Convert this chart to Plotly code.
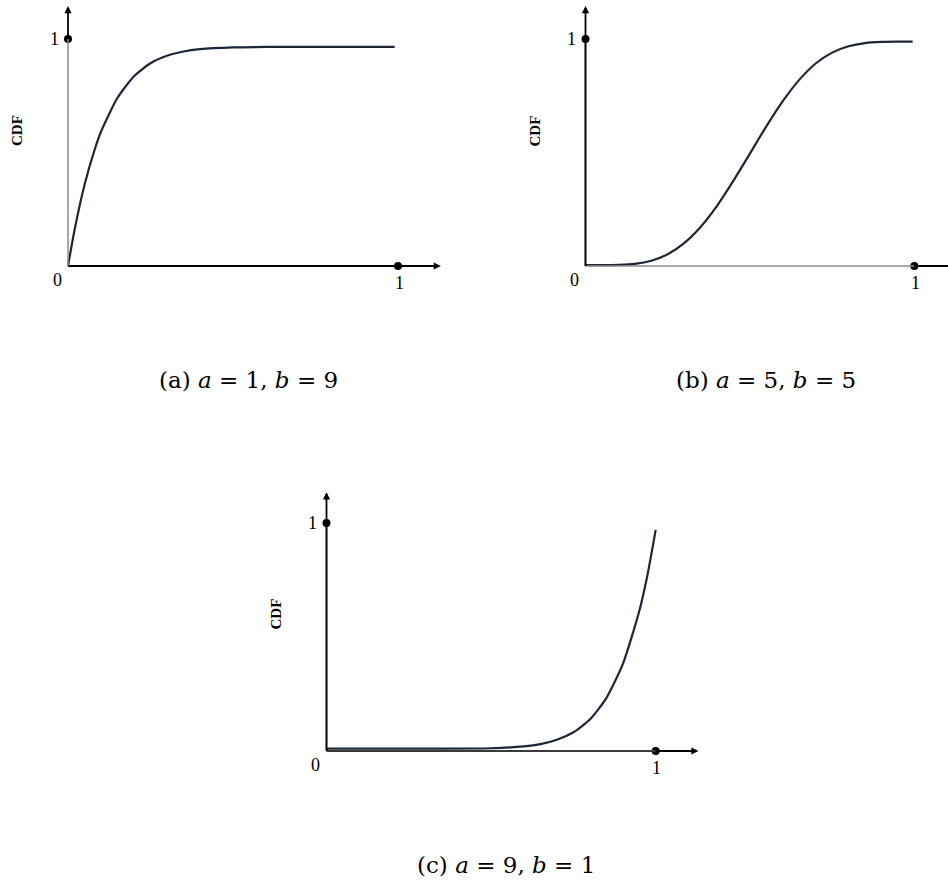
import plotly.graph_objects as go

# Sampled CDF curves for three Beta(a, b) shapes
x_a = [0.0, 0.02, 0.05, 0.08, 0.10, 0.15, 0.20, 0.25, 0.30, 0.35, 0.40, 0.50, 0.60, 0.70, 0.80, 0.90, 0.99]
y_a = [0.0, 0.160, 0.357, 0.509, 0.592, 0.741, 0.836, 0.893, 0.926, 0.945, 0.955, 0.963, 0.965, 0.965, 0.965, 0.965, 0.965]

x_b = [0.0, 0.05, 0.10, 0.15, 0.20, 0.25, 0.30, 0.35, 0.40, 0.45, 0.50, 0.55, 0.60, 0.65, 0.70, 0.75, 0.80, 0.85, 0.90, 0.95, 0.995]
y_b = [0.004, 0.004, 0.005, 0.009, 0.023, 0.052, 0.101, 0.172, 0.265, 0.376, 0.495, 0.615, 0.726, 0.820, 0.892, 0.940, 0.968, 0.982, 0.987, 0.988, 0.988]

x_c = [0.0, 0.3, 0.5, 0.6, 0.65, 0.70, 0.75, 0.80, 0.85, 0.90, 0.95, 0.975, 1.0]
y_c = [0.010, 0.010, 0.012, 0.020, 0.030, 0.049, 0.082, 0.138, 0.232, 0.381, 0.613, 0.772, 0.970]

captions = [
    "(a) <i>a</i>&nbsp;=&nbsp;1, <i>b</i>&nbsp;=&nbsp;9",
    "(b) <i>a</i>&nbsp;=&nbsp;5, <i>b</i>&nbsp;=&nbsp;5",
    "(c) <i>a</i>&nbsp;=&nbsp;9, <i>b</i>&nbsp;=&nbsp;1",
]
tick_lo, tick_hi = "0", "1"
y_title = "CDF"

W, H = 948, 882
CURVE = "#1c2636"
SERIF = "DejaVu Serif, Liberation Serif, serif"
TICK_SERIF = "Liberation Serif, DejaVu Serif, serif"


def axis_ranges(box_x, box_y, x0, x1, y0, y1):
    """Pixel box + pixel positions of 0 and 1 -> domains and ranges."""
    sx = x1 - x0
    sy = y0 - y1
    xr = [(box_x[0] - x0) / sx, (box_x[1] - x0) / sx]
    yr = [(y0 - box_y[1]) / sy, (y0 - box_y[0]) / sy]
    xd = [box_x[0] / W, box_x[1] / W]
    yd = [1 - box_y[1] / H, 1 - box_y[0] / H]
    return xd, xr, yd, yr


panels = [
    dict(box_x=(0, 474), box_y=(0, 330), x0=68, x1=398, y0=266, y1=39, title_y=131,
         xs=x_a, ys=y_a, gray="y", xtip=1.13, ytip=1.145, cap_x=248, cap_y=380),
    dict(box_x=(474, 948), box_y=(0, 330), x0=585.5, x1=914.3, y0=266, y1=39, title_y=131,
         xs=x_b, ys=y_b, gray="x", xtip=1.13, ytip=1.145, cap_x=766, cap_y=380),
    dict(box_x=(200, 748), box_y=(460, 800), x0=326.5, x1=655.7, y0=751, y1=523, title_y=614,
         xs=x_c, ys=y_c, gray="c", xtip=1.13, ytip=1.135, cap_x=506, cap_y=865),
]

fig = go.Figure()
layout = dict(width=W, height=H, margin=dict(l=0, r=0, t=0, b=0),
              paper_bgcolor="white", plot_bgcolor="rgba(0,0,0,0)", showlegend=False)
shapes, annotations = [], []

for i, p in enumerate(panels):
    k = "" if i == 0 else str(i + 1)
    xa, ya = "x" + k, "y" + k
    xd, xr, yd, yr = axis_ranges(p["box_x"], p["box_y"], p["x0"], p["x1"], p["y0"], p["y1"])
    layout["xaxis" + k] = dict(domain=xd, range=xr, visible=False, fixedrange=True, anchor=ya)
    layout["yaxis" + k] = dict(domain=yd, range=yr, visible=False, fixedrange=True, anchor=xa)

    # axis lines from 0 to 1
    x_col = "#8a8a8a" if p["gray"] == "x" else ("#3a3a3a" if p["gray"] == "c" else "black")
    y_col = "#8a8a8a" if p["gray"] == "y" else "black"
    shapes.append(dict(type="line", xref=xa, yref=ya, x0=0, y0=0, x1=1, y1=0,
                       line=dict(color=x_col, width=2 if x_col != "#8a8a8a" else 1.5)))
    shapes.append(dict(type="line", xref=xa, yref=ya, x0=0, y0=0, x1=0, y1=1,
                       line=dict(color=y_col, width=2 if y_col == "black" else 1.5)))
    # arrow extensions beyond 1
    annotations.append(dict(xref=xa, yref=ya, axref=xa, ayref=ya, x=p["xtip"], y=0, ax=1, ay=0,
                            text="", showarrow=True, arrowhead=2, arrowsize=0.8,
                            arrowwidth=1.8, arrowcolor="black"))
    annotations.append(dict(xref=xa, yref=ya, axref=xa, ayref=ya, x=0, y=p["ytip"], ax=0, ay=1,
                            text="", showarrow=True, arrowhead=2, arrowsize=0.8,
                            arrowwidth=1.8, arrowcolor="black"))

    # curve
    fig.add_trace(go.Scatter(x=p["xs"], y=p["ys"], mode="lines", xaxis=xa, yaxis=ya,
                             line=dict(color=CURVE, width=2.2, shape="spline", smoothing=0.6),
                             hoverinfo="skip", cliponaxis=False))
    # end-point dots
    fig.add_trace(go.Scatter(x=[0, 1], y=[1, 0], mode="markers", xaxis=xa, yaxis=ya,
                             marker=dict(color="black", size=8), hoverinfo="skip", cliponaxis=False))

    # tick labels
    tf = dict(family=TICK_SERIF, size=18, color="black")
    annotations.append(dict(xref=xa, yref=ya, x=0, y=0, text=tick_lo, showarrow=False,
                            xshift=-11, yshift=-14, font=tf))
    annotations.append(dict(xref=xa, yref=ya, x=1, y=0, text=tick_hi, showarrow=False,
                            xshift=1, yshift=-17, font=tf))
    annotations.append(dict(xref=xa, yref=ya, x=0, y=1, text=tick_hi, showarrow=False,
                            xshift=-14, yshift=0, font=tf))
    # axis title
    annotations.append(dict(xref=xa, yref=ya, x=0,
                            y=(p["y0"] - p["title_y"]) / (p["y0"] - p["y1"]),
                            text="<b>" + y_title + "</b>", showarrow=False, textangle=-90,
                            xshift=-51, font=dict(family=TICK_SERIF, size=15, color="black")))
    # caption
    annotations.append(dict(xref="paper", yref="paper", x=p["cap_x"] / W, y=1 - p["cap_y"] / H,
                            xanchor="center", yanchor="middle", text=captions[i], showarrow=False,
                            font=dict(family=SERIF, size=23, color="black")))

layout["shapes"] = shapes
layout["annotations"] = annotations
fig.update_layout(**layout)
fig.write_html("out.html")
